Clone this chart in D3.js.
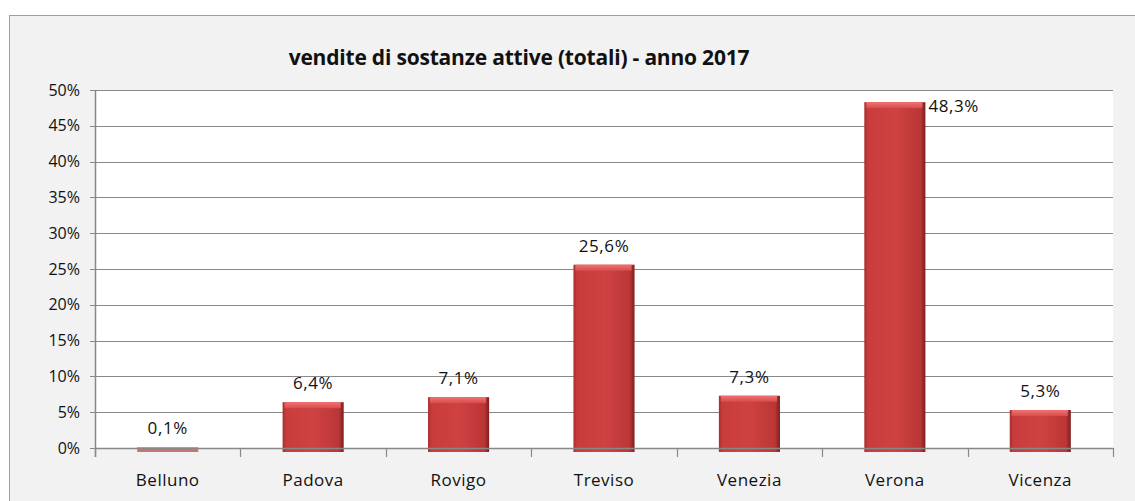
<!DOCTYPE html>
<html>
<head>
<meta charset="utf-8">
<script src="https://cdnjs.cloudflare.com/ajax/libs/d3/7.8.5/d3.min.js"></script>
<style>
  html, body { margin: 0; padding: 0; background: #fff; }
  svg { display: block; }
  text { font-family: 'Open Sans', Lato, sans-serif; fill: #111; }
</style>
</head>
<body>
<div id="vis"></div>
<script>
// data
var categories = ["Belluno", "Padova", "Rovigo", "Treviso", "Venezia", "Verona", "Vicenza"];
var values = [0.1, 6.4, 7.1, 25.6, 7.3, 48.3, 5.3];
var yTicks = [0, 5, 10, 15, 20, 25, 30, 35, 40, 45, 50];
var title = "vendite di sostanze attive (totali) - anno 2017";

var rows = categories.map((c, i) => ({ name: c, value: values[i] }));

var width = 1135, height = 501;
var plot = { left: 95, right: 1113, top: 90, bottom: 448 };

var svg = d3.select("#vis").append("svg")
    .attr("width", width)
    .attr("height", height);

// gradients for the bevelled bars
var defs = svg.append("defs");
var g1 = defs.append("linearGradient").attr("id", "barH").attr("x1", 0).attr("x2", 1).attr("y1", 0).attr("y2", 0);
g1.append("stop").attr("offset", "0%").attr("stop-color", "#a82e2e");
g1.append("stop").attr("offset", "6%").attr("stop-color", "#c83c3c");
g1.append("stop").attr("offset", "50%").attr("stop-color", "#cf4242");
g1.append("stop").attr("offset", "92%").attr("stop-color", "#bb3636");
g1.append("stop").attr("offset", "100%").attr("stop-color", "#7e1e1e");
var g2 = defs.append("linearGradient").attr("id", "barTop").attr("x1", 0).attr("x2", 0).attr("y1", 0).attr("y2", 1);
g2.append("stop").attr("offset", "0%").attr("stop-color", "#f07272");
g2.append("stop").attr("offset", "100%").attr("stop-color", "#d84c4c");

// chart area
svg.append("rect")
    .attr("x", 9.5).attr("y", 15.5)
    .attr("width", width).attr("height", height)
    .attr("fill", "#f2f2f2")
    .attr("stroke", "#a0a0a0");

svg.append("rect")
    .attr("x", plot.left).attr("y", plot.top)
    .attr("width", plot.right - plot.left).attr("height", plot.bottom - plot.top)
    .attr("fill", "#fff");

var x = d3.scaleBand()
    .domain(categories)
    .range([plot.left, plot.right])
    .paddingInner(0.58)
    .paddingOuter(0.29);

var y = d3.scaleLinear()
    .domain([0, 50])
    .range([plot.bottom, plot.top]);

// gridlines
svg.append("g")
    .selectAll("line")
    .data(yTicks)
    .join("line")
    .attr("x1", plot.left - 5).attr("x2", plot.right)
    .attr("y1", d => Math.round(y(d)) + 0.5).attr("y2", d => Math.round(y(d)) + 0.5)
    .attr("stroke", "#888")
    .attr("stroke-width", 1.2);

// y labels
svg.append("g")
    .selectAll("text")
    .data(yTicks)
    .join("text")
    .attr("x", 80)
    .attr("y", d => y(d))
    .attr("dy", "0.35em")
    .attr("text-anchor", "end")
    .style("font-size", "16px")
    .text(d => d + "%");

// y axis line
svg.append("line")
    .attr("x1", plot.left + 0.5).attr("x2", plot.left + 0.5)
    .attr("y1", plot.top).attr("y2", plot.bottom + 9)
    .attr("stroke", "#888").attr("stroke-width", 1.5);

// bars
var step = x.step();
var bars = svg.append("g").selectAll("g")
    .data(rows)
    .join("g");

bars.append("rect")
    .attr("x", d => x(d.name))
    .attr("y", d => y(d.value))
    .attr("width", x.bandwidth())
    .attr("height", d => plot.bottom + 4 - y(d.value))
    .attr("fill", d => d.value < 1 ? "#c77474" : "url(#barH)");

bars.filter(d => d.value >= 1)
    .append("rect")
    .attr("x", d => x(d.name) + 2)
    .attr("y", d => y(d.value))
    .attr("width", x.bandwidth() - 5)
    .attr("height", 6)
    .attr("fill", "url(#barTop)");

// x axis line and ticks
svg.append("line")
    .attr("x1", plot.left).attr("x2", plot.right)
    .attr("y1", plot.bottom + 0.5).attr("y2", plot.bottom + 0.5)
    .attr("stroke", "#888").attr("stroke-width", 1.5);

svg.append("g")
    .selectAll("line")
    .data(d3.range(categories.length + 1))
    .join("line")
    .attr("x1", i => Math.round(plot.left + i * step) + 0.5)
    .attr("x2", i => Math.round(plot.left + i * step) + 0.5)
    .attr("y1", plot.bottom).attr("y2", plot.bottom + 9)
    .attr("stroke", "#888").attr("stroke-width", 1.2);

// category labels
svg.append("g")
    .selectAll("text")
    .data(categories)
    .join("text")
    .attr("x", d => x(d) + x.bandwidth() / 2)
    .attr("y", 486)
    .attr("text-anchor", "middle")
    .style("font-size", "17px")
    .style("letter-spacing", "0.5px")
    .text(d => d);

// value labels (largest one sits beside the bar)
var maxV = d3.max(values);
svg.append("g")
    .selectAll("text")
    .data(rows)
    .join("text")
    .attr("x", d => d.value === maxV ? x(d.name) + x.bandwidth() + 3 : x(d.name) + x.bandwidth() / 2)
    .attr("y", d => d.value === maxV ? y(d.value) + 10 : y(d.value) - 13)
    .attr("text-anchor", d => d.value === maxV ? "start" : "middle")
    .style("font-size", "17px")
    .style("letter-spacing", "0.6px")
    .text(d => d.value.toFixed(1).replace(".", ",") + "%");

// title
svg.append("text")
    .attr("x", 519)
    .attr("y", 65)
    .attr("text-anchor", "middle")
    .style("font-size", "21px")
    .style("font-weight", "bold")
    .style("letter-spacing", "-0.2px")
    .text(title);
</script>
</body>
</html>
